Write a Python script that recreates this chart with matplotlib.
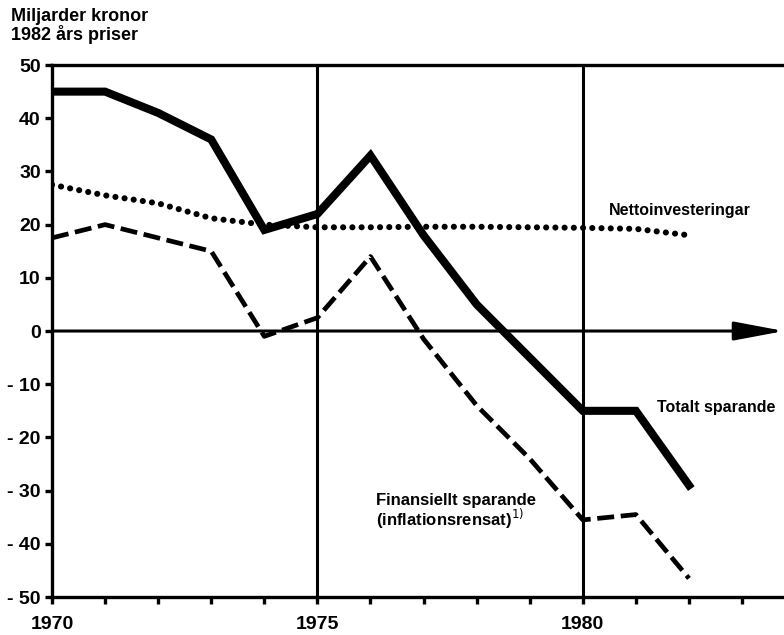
import numpy as np
import matplotlib.pyplot as plt

plt.rcParams['font.family'] = ['Liberation Sans', 'DejaVu Sans']

# Data (miljarder kronor, 1982 års priser)
ar = [1970, 1971, 1972, 1973, 1974, 1975, 1976, 1977, 1978, 1979, 1980, 1981, 1982]
totalt = [45, 45, 41, 36, 19, 22, 33, 18, 5, -5, -15, -15, -29]
netto = [27.5, 25.5, 24, 21.2, 20, 19.5, 19.5, 19.6, 19.6, 19.5, 19.4, 19.2, 18]
finans = [17.5, 20, 17.5, 15, -1, 2.5, 14, -1.5, -14, -24, -35.5, -34.5, -46.5]

yticks = [50, 40, 30, 20, 10, 0, -10, -20, -30, -40, -50]
ytick_labels = ['50', '40', '30', '20', '10', '0', '- 10', '- 20', '- 30', '- 40', '- 50']
xticks = list(range(1970, 1984))
xtick_labels = [str(a) if a % 5 == 0 else '' for a in xticks]

fig = plt.figure(figsize=(7.84, 6.35), dpi=100)
ax = fig.add_axes([0.0663, 0.0598, 0.9337, 0.8378])

x_max = 1983.79
ax.set_xlim(1970, x_max)
ax.set_ylim(-50, 50)

# stödlinjer
for a in [1975, 1980]:
    ax.axvline(a, color='black', lw=2.2, zorder=1)
ax.annotate('', xy=(x_max, 0), xytext=(1970, 0),
            arrowprops=dict(arrowstyle='-|>,head_length=1.7,head_width=0.32',
                            lw=2.2, color='black', mutation_scale=18,
                            shrinkA=0, shrinkB=0), zorder=2)

# serier
ax.plot(ar, totalt, color='black', lw=5.8, solid_joinstyle='miter', zorder=4)
ax.plot(ar, netto, color='black', lw=4.4, linestyle=(0, (0.01, 1.5)),
        dash_capstyle='round', zorder=3)
ax.plot(ar, finans, color='black', lw=3.4, linestyle=(0, (3.6, 1.4)), zorder=3)

# etiketter
ax.text(1980.5, 22.6, 'Nettoinvesteringar', fontsize=11.5, fontweight='bold',
        ha='left', va='center')
ax.text(1981.4, -14.3, 'Totalt sparande', fontsize=11.5, fontweight='bold',
        ha='left', va='center')
ax.text(1976.1, -34.0, 'Finansiellt sparande\n(inflationsrensat)$^{1)}$',
        fontsize=12, fontweight='bold', ha='left', va='center', linespacing=0.95)

fig.text(0.014, 0.988, 'Miljarder kronor\n1982 års priser', fontsize=13,
         fontweight='bold', ha='left', va='top', linespacing=1.0)

# axlar
for s in ['left', 'bottom', 'top']:
    ax.spines[s].set_linewidth(2.4)
ax.spines['right'].set_visible(False)

ax.set_yticks(yticks)
ax.set_yticklabels(ytick_labels)
ax.set_xticks(xticks)
ax.set_xticklabels(xtick_labels)
ax.tick_params(axis='y', direction='out', length=5, width=2.4, pad=3,
               labelsize=14)
ax.tick_params(axis='x', direction='out', length=5, width=2.4, pad=9,
               labelsize=14)
for lab in ax.get_xticklabels() + ax.get_yticklabels():
    lab.set_fontweight('bold')

fig.savefig('out.png', dpi=100)
